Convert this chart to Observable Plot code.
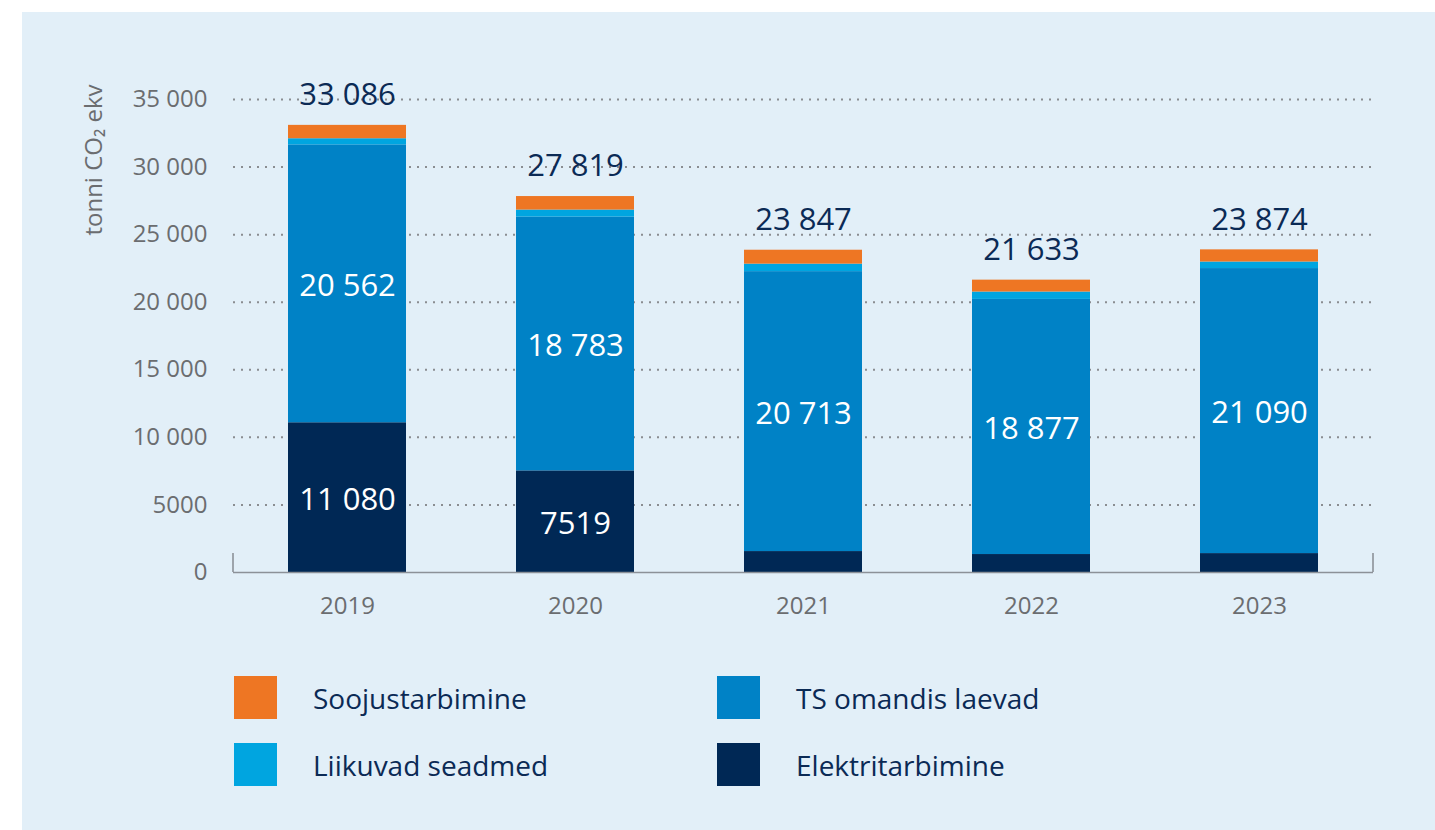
<!DOCTYPE html>
<html>
<head>
<meta charset="utf-8">
<script src="https://cdn.jsdelivr.net/npm/d3@7"></script>
<script src="https://cdn.jsdelivr.net/npm/@observablehq/plot@0.6"></script>
<style>
  html, body { margin: 0; padding: 0; background: #ffffff; }
  #panel { position: absolute; left: 22px; top: 12px; width: 1413px; height: 818px; background: #e2eff8; font-family: "Open Sans", sans-serif; }
  #chart { position: absolute; left: 0; top: 0; }
  .leg { position: absolute; display: flex; align-items: center; height: 43px; }
  .leg .sw { width: 43px; height: 43px; margin-right: 36px; }
  .leg span { font-size: 28px; color: #0b2a55; white-space: nowrap; }
</style>
</head>
<body>
<div id="panel">
  <div id="chart"></div>
  <div id="legend"></div>
</div>
<script>
const years = ["2019", "2020", "2021", "2022", "2023"];
const totals = [33086, 27819, 23847, 21633, 23874];
const elektritarbimine = [11080, 7519, 1550, 1330, 1400];
const laevad = [20562, 18783, 20713, 18877, 21090];
const liikuvad = [454, 517, 554, 546, 484];
const soojus = [990, 1000, 1030, 880, 900];
const seriesNames = ["Elektritarbimine", "TS omandis laevad", "Liikuvad seadmed", "Soojustarbimine"];
const seriesColors = ["#002855", "#0082c6", "#00a5e0", "#ee7623"];
const yTicks = [0, 5000, 10000, 15000, 20000, 25000, 30000, 35000];
const yLabel = "tonni CO₂ ekv";

const fmt = v => v >= 10000 ? d3.format(",")(v).replace(/,/g, " ") : String(v);

const seriesValues = [elektritarbimine, laevad, liikuvad, soojus];
const long = [];
years.forEach((yr, i) => {
  seriesNames.forEach((s, j) => {
    const v = seriesValues[j][i];
    const showLabel = (j === 0 || j === 1) && v > 5000;
    long.push({ year: yr, series: s, value: v, label: showLabel ? fmt(v) : "" });
  });
});
const totalsData = years.map((yr, i) => ({ year: yr, total: totals[i] }));

const gray = "#6b6d70";
const navy = "#0b2a55";

const plot = Plot.plot({
  width: 1413,
  height: 640,
  marginLeft: 211,
  marginRight: 62,
  marginTop: 87,
  marginBottom: 80,
  style: { background: "transparent", fontFamily: "'Open Sans', sans-serif", color: gray, overflow: "visible" },
  x: { domain: years, paddingInner: 0.482, paddingOuter: 0.241, label: null },
  y: { domain: [0, 35000], label: null },
  color: { domain: seriesNames, range: seriesColors },
  marks: [
    Plot.ruleY(yTicks.filter(d => d > 0), { stroke: "#8a8d91", strokeWidth: 2, strokeDasharray: "2 6" }),
    Plot.barY(long, { x: "year", y: "value", fill: "series", order: seriesNames }),
    Plot.ruleY([0], { stroke: "#8c9198", strokeWidth: 1.6 }),
    Plot.axisY({ ticks: yTicks, tickSize: 0, tickPadding: 26, tickFormat: fmt, fontSize: 24, fill: gray, label: null }),
    Plot.axisX({ tickSize: 0, tickPadding: 24, fontSize: 24, fill: gray, label: null }),
    Plot.text(totalsData, { x: "year", y: "total", text: d => fmt(d.total), dy: -30, fill: navy, fontSize: 31 }),
    Plot.text(long, Plot.stackY({ x: "year", y: "value", z: "series", order: seriesNames, text: "label", fill: "white", fontSize: 31, dy: 2 }))
  ]
});
document.getElementById("chart").appendChild(plot);

const svg = d3.select(plot);
// end ticks of the baseline
const xr = plot.scale("x").range;
const y0 = plot.scale("y").apply(0);
xr.forEach(x => {
  svg.append("line").attr("x1", x).attr("x2", x).attr("y1", y0 - 19).attr("y2", y0)
    .attr("stroke", "#8c9198").attr("stroke-width", 1.6);
});
// rotated y-axis title
svg.append("text")
  .attr("transform", "translate(70,148) rotate(-90)")
  .attr("text-anchor", "middle")
  .attr("dominant-baseline", "central")
  .attr("fill", gray)
  .attr("font-size", 24)
  .attr("font-family", "'Open Sans', sans-serif")
  .text(yLabel);

// legend
const legendOrder = ["Soojustarbimine", "Liikuvad seadmed", "TS omandis laevad", "Elektritarbimine"];
const legendPos = [[212, 664], [212, 731], [695, 664], [695, 731]];
const legend = document.getElementById("legend");
legendOrder.forEach((name, i) => {
  const item = document.createElement("div");
  item.className = "leg";
  item.style.left = legendPos[i][0] + "px";
  item.style.top = legendPos[i][1] + "px";
  const sw = document.createElement("div");
  sw.className = "sw";
  sw.style.background = seriesColors[seriesNames.indexOf(name)];
  const t = document.createElement("span");
  t.textContent = name;
  item.appendChild(sw);
  item.appendChild(t);
  legend.appendChild(item);
});
</script>
</body>
</html>
